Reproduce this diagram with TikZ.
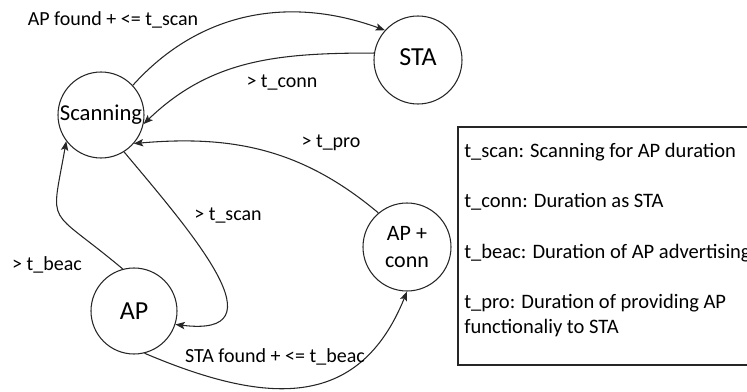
\documentclass[tikz,border=0pt]{standalone}
\usepackage{fontspec}
\setmainfont{Carlito}
\usetikzlibrary{arrows.meta}
\begin{document}
\begin{tikzpicture}[x=0.75pt,y=0.75pt,
  state/.style={circle,draw=black!85,line width=0.8pt,inner sep=0pt,align=center},
  trans/.style={draw=black!85,line width=0.8pt,-{Stealth[length=7pt,width=5.5pt,inset=1.5pt]}},
  lbl/.style={font=\fontsize{15}{18}\selectfont,inner sep=0pt},
  legend/.style={font=\fontsize{15.4}{18}\selectfont,inner sep=0pt,anchor=west}]
\useasboundingbox (0,0) rectangle (747,-392);

% states
\node[state,minimum size=64.5pt,font=\fontsize{17}{20}\selectfont] (scan) at (101,-115) {Scanning};
\node[state,minimum size=66pt,font=\fontsize{19.5}{20}\selectfont] (sta) at (418,-60) {\raisebox{5pt}{STA}};
\node[state,minimum size=64.5pt,font=\fontsize{19.5}{20}\selectfont] (ap) at (134,-311) {AP};
\node[state,minimum size=66pt,font=\fontsize{16.5}{20}\selectfont] (apc) at (407,-247) {AP +\\conn};

% transitions
\draw[trans] (scan.43) to[out=48,in=160] (sta.138);
\draw[trans] (sta.171) to[out=180,in=44] (scan.-12);
\draw[trans] (apc.130) to[out=140,in=5] (scan.-41);
\draw[trans] (scan.-58) .. controls +(-50:110) and +(-7:108) .. (ap.-18);
\draw[trans] (ap.105) .. controls +(140:100) and +(-100:90) .. (scan.-143);
\draw[trans] (ap.-76) .. controls +(-23:130) and +(248:130) .. (apc.-90);

% transition labels
\node[lbl] (l1) at (113,-20) {AP found + <= t\_scan};
\node[lbl] (l2) at (282,-83) {> t\_conn};
\node[lbl] (l3) at (331,-143) {> t\_pro};
\node[lbl] (l4) at (228,-216) {> t\_scan};
\node[lbl] (l5) at (47,-265) {> t\_beac};
\node[lbl] (l6) at (275,-357) {STA found + <= t\_beac};

% legend
\draw[draw=black!85,line width=0.8pt] (458,-127) rectangle (770,-365);
\node[legend] (k1) at (464,-152) {t\_scan: Scanning for AP duration};
\node[legend] (k2) at (464,-202) {t\_conn: Duration as STA};
\node[legend] (k3) at (464,-253) {t\_beac: Duration of AP advertising};
\node[legend] (k4) at (464,-303) {t\_pro: Duration of providing AP};
\node[legend] (k5) at (464,-328) {functionaliy to STA};
\end{tikzpicture}
\end{document}
